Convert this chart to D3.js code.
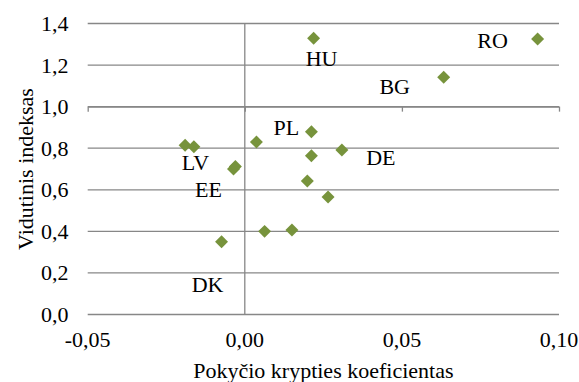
<!DOCTYPE html>
<html>
<head>
<meta charset="utf-8">
<script src="https://cdn.jsdelivr.net/npm/d3@7"></script>
<style>
  html, body { margin: 0; padding: 0; background: #fff; }
  svg { display: block; }
</style>
</head>
<body>
<svg id="chart" width="579" height="382" font-family="'Liberation Serif', 'DejaVu Serif', serif"></svg>
<script>
// Country codes (empty string = unlabeled point)
const countries = ["LV2", "LV", "EE", "EE2", "PL2", "PL", "DE", "DE2", "DE3", "DE4", "DK2", "DK3", "DK", "HU", "RO", "BG"];
const labels    = ["",    "LV", "EE", "",    "",    "PL", "DE", "",    "",    "",    "",    "",    "DK", "HU", "RO", "BG"];
// Pokyčio krypties koeficientas
const slopes    = [-0.0190, -0.0162, -0.0036, -0.0030, 0.0037, 0.0212, 0.0309, 0.0212, 0.0199, 0.0265, 0.0063, 0.0150, -0.0074, 0.0219, 0.0932, 0.0633];
// Vidutinis indeksas
const indexes   = [0.814, 0.807, 0.700, 0.712, 0.830, 0.879, 0.791, 0.764, 0.642, 0.565, 0.400, 0.407, 0.350, 1.329, 1.325, 1.141];

const xTicks = [-0.05, 0.00, 0.05, 0.10];
const yTicks = [0.0, 0.2, 0.4, 0.6, 0.8, 1.0, 1.2, 1.4];
const xTitle = "Pokyčio krypties koeficientas";
const yTitle = "Vidutinis indeksas";

// Label placement relative to its marker (pixels)
const labelOffset = {
  RO: [-45, 9], HU: [8, 28], BG: [-49, 17], PL: [-25, 3.5],
  DE: [39, 14.5], LV: [1.5, 23.5], EE: [-25, 28], DK: [-14, 50]
};

const svg = d3.select("#chart");
const plotLeft = 87.7, plotRight = 559, plotTop = 23.5, plotBottom = 314.5;
const fontSize = 22;
const font = "'Liberation Serif', 'DejaVu Serif', serif";

const x = d3.scaleLinear().domain([-0.05, 0.10]).range([plotLeft, plotRight]);
const y = d3.scaleLinear().domain([0, 1.4]).range([plotBottom, plotTop]);

const lt = d3.formatLocale({ decimal: ",", thousands: " ", grouping: [3], currency: ["", ""], minus: "-" });
const fx = lt.format(".2f"), fy = lt.format(".1f");

const gridColor = "#878787";

// horizontal gridlines
svg.append("g").selectAll("line").data(yTicks).join("line")
  .attr("x1", plotLeft).attr("x2", plotRight)
  .attr("y1", d => y(d)).attr("y2", d => y(d))
  .attr("stroke", gridColor).attr("stroke-width", 1.3);

// vertical axis at x = 0
svg.append("line")
  .attr("x1", x(0)).attr("x2", x(0)).attr("y1", plotTop).attr("y2", plotBottom)
  .attr("stroke", gridColor).attr("stroke-width", 1.3);

// horizontal axis crosses at 1,0 with tick marks below
const xAxis = d3.axisBottom(x).tickValues(xTicks).tickSize(5).tickSizeOuter(0).tickFormat("");
const gx = svg.append("g").attr("transform", `translate(0,${y(1.0)})`).call(xAxis);
gx.select(".domain").attr("stroke", gridColor).attr("stroke-width", 1.3);
gx.selectAll(".tick line").attr("stroke", gridColor).attr("stroke-width", 1.3);

// tick labels (low position)
svg.append("g").selectAll("text").data(xTicks).join("text")
  .attr("x", d => x(d)).attr("y", 346.5)
  .attr("text-anchor", "middle").attr("font-size", fontSize).attr("font-family", font)
  .text(d => fx(d));

svg.append("g").selectAll("text").data(yTicks).join("text")
  .attr("x", 68.5).attr("y", d => y(d)).attr("dy", "0.34em")
  .attr("text-anchor", "end").attr("font-size", fontSize).attr("font-family", font)
  .text(d => fy(d));

// axis titles
svg.append("text")
  .attr("x", (plotLeft + plotRight) / 2).attr("y", 378)
  .attr("text-anchor", "middle").attr("font-size", fontSize).attr("font-family", font)
  .text(xTitle);

svg.append("text")
  .attr("transform", `translate(32.5,${(plotTop + plotBottom) / 2}) rotate(-90)`)
  .attr("text-anchor", "middle").attr("font-size", fontSize).attr("font-family", font)
  .text(yTitle);

// markers
const diamond = d3.symbol().type(d3.symbolSquare).size(84);
const pts = countries.map((c, i) => ({ c, label: labels[i], sx: slopes[i], iy: indexes[i] }));

svg.append("g").selectAll("path").data(pts).join("path")
  .attr("d", diamond)
  .attr("transform", d => `translate(${x(d.sx)},${y(d.iy)}) rotate(45)`)
  .attr("fill", "#77933c");

// data labels
svg.append("g").selectAll("text").data(pts.filter(d => d.label)).join("text")
  .attr("x", d => x(d.sx) + labelOffset[d.label][0])
  .attr("y", d => y(d.iy) + labelOffset[d.label][1])
  .attr("text-anchor", "middle").attr("font-size", fontSize).attr("font-family", font)
  .text(d => d.label);
</script>
</body>
</html>
